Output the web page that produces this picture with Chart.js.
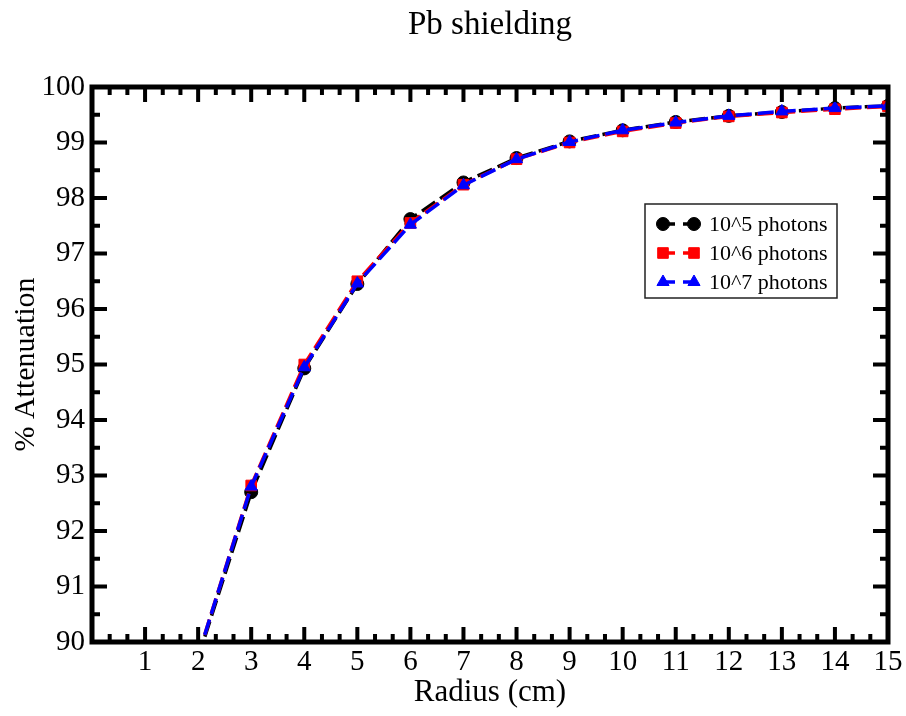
<!DOCTYPE html>
<html>
<head>
<meta charset="utf-8">
<title>Pb shielding</title>
<script src="https://cdn.jsdelivr.net/npm/chart.js@4.4.1/dist/chart.umd.min.js"></script>
<style>
  html, body { margin: 0; padding: 0; background: #fff; }
  #wrap { width: 906px; height: 716px; }
</style>
</head>
<body>
<div id="wrap"><canvas id="attChart" width="906" height="716"></canvas></div>
<script>
// ===============================
// data
// ===============================
const radius = [2, 3, 4, 5, 6, 7, 8, 9, 10, 11, 12, 13, 14, 15];
const photons1e5 = [89.72, 92.7, 94.93, 96.45, 97.62, 98.28, 98.72, 99.02, 99.22, 99.37, 99.48, 99.55, 99.62, 99.66];
const photons1e6 = [89.75, 92.82, 95.0, 96.5, 97.55, 98.24, 98.7, 99.0, 99.2, 99.35, 99.47, 99.54, 99.6, 99.65];
const photons1e7 = [89.75, 92.8, 94.95, 96.46, 97.52, 98.23, 98.7, 99.01, 99.22, 99.36, 99.48, 99.56, 99.62, 99.66];
const seriesNames = ["10^5 photons", "10^6 photons", "10^7 photons"];
const seriesColors = ["#000000", "#ff0000", "#0000ff"];
const chartTitle = "Pb shielding";

const FONT = "'Liberation Serif', 'Times New Roman', serif";

function toPoints(xs, ys) {
  return xs.map((x, i) => ({ x: x, y: ys[i] }));
}

// frame + inward ticks on all four sides, title centred over the plot box
const framePlugin = {
  id: "frame",
  afterDatasetsDraw(chart) {
    const { ctx, chartArea: a, scales: { x, y } } = chart;
    ctx.save();
    ctx.strokeStyle = "#000";
    ctx.lineWidth = 4;
    ctx.lineCap = "butt";
    ctx.beginPath();
    for (let i = 0; i <= 45; i++) {
      const px = x.getPixelForValue(i / 3);
      const len = i % 3 === 0 ? 15 : 8;
      ctx.moveTo(px, a.bottom); ctx.lineTo(px, a.bottom - len);
      ctx.moveTo(px, a.top); ctx.lineTo(px, a.top + len);
    }
    for (let i = 0; i <= 20; i++) {
      const py = y.getPixelForValue(90 + i / 2);
      const len = i % 2 === 0 ? 15 : 8;
      ctx.moveTo(a.left, py); ctx.lineTo(a.left + len, py);
      ctx.moveTo(a.right, py); ctx.lineTo(a.right - len, py);
    }
    ctx.stroke();
    ctx.lineWidth = 5;
    ctx.strokeRect(a.left, a.top, a.right - a.left, a.bottom - a.top);

    ctx.fillStyle = "#000";
    ctx.font = "33px " + FONT;
    ctx.textAlign = "center";
    ctx.textBaseline = "middle";
    ctx.fillText(chartTitle, (a.left + a.right) / 2, 25);
    ctx.restore();
  }
};

// boxed legend inside the plot, marker - dash - marker
const legendPlugin = {
  id: "boxLegend",
  afterDraw(chart) {
    const ctx = chart.ctx;
    const box = { left: 645, top: 204, right: 837, bottom: 298 };
    ctx.save();
    ctx.fillStyle = "#fff";
    ctx.fillRect(box.left, box.top, box.right - box.left, box.bottom - box.top);
    ctx.strokeStyle = "#222";
    ctx.lineWidth = 1.5;
    ctx.strokeRect(box.left, box.top, box.right - box.left, box.bottom - box.top);

    const rows = [224, 253, 282];
    chart.data.datasets.forEach((ds, i) => {
      const yy = rows[i];
      const x1 = 663, x2 = 694;
      ctx.strokeStyle = ds.borderColor;
      ctx.lineWidth = ds.borderWidth;
      ctx.setLineDash([12, 8]);
      ctx.beginPath();
      ctx.moveTo(x1, yy); ctx.lineTo(x2, yy);
      ctx.stroke();
      ctx.setLineDash([]);
      ctx.fillStyle = ds.borderColor;
      ctx.lineWidth = 1;
      [x1, x2].forEach(px => {
        Chart.helpers.drawPoint(ctx, {
          pointStyle: ds.pointStyle, radius: ds.pointRadius, rotation: 0, borderWidth: 1
        }, px, yy);
      });
      ctx.fillStyle = "#000";
      ctx.font = "22px " + FONT;
      ctx.textAlign = "left";
      ctx.textBaseline = "middle";
      ctx.fillText(ds.label, 709, yy + 1);
    });
    ctx.restore();
  }
};

function makeDataset(i, values, style, radiusPx, order) {
  return {
    label: seriesNames[i],
    data: toPoints(radius, values),
    borderColor: seriesColors[i],
    backgroundColor: seriesColors[i],
    pointBackgroundColor: seriesColors[i],
    pointBorderColor: seriesColors[i],
    borderWidth: 3.5,
    borderDash: [16, 6],
    pointStyle: style,
    pointRadius: radiusPx,
    pointBorderWidth: 1,
    tension: 0,
    clip: 0,
    order: order
  };
}

const ctx = document.getElementById("attChart").getContext("2d");
const attChart = new Chart(ctx, {
  type: "line",
  data: {
    datasets: [
      makeDataset(0, photons1e5, "circle", 6.5, 2),
      makeDataset(1, photons1e6, "rect", 7.5, 1),
      makeDataset(2, photons1e7, "triangle", 7, 0)
    ]
  },
  options: {
    responsive: false,
    animation: false,
    layout: { padding: { left: 0, right: 18, top: 87, bottom: 0 } },
    plugins: {
      legend: { display: false },
      tooltip: { enabled: false },
      title: { display: false }
    },
    scales: {
      x: {
        type: "linear",
        min: 0,
        max: 15,
        grid: { display: false, drawTicks: false },
        border: { display: false },
        ticks: {
          stepSize: 1,
          color: "#000",
          padding: 3,
          maxRotation: 0,
          font: { family: FONT, size: 29 },
          callback: v => (v === 0 ? "" : v)
        },
        title: {
          display: true,
          text: "Radius (cm)",
          color: "#000",
          font: { family: FONT, size: 31 },
          padding: { top: 0, bottom: 5 }
        },
        afterFit: s => { s.height = 74; }
      },
      y: {
        min: 90,
        max: 100,
        grid: { display: false, drawTicks: false },
        border: { display: false },
        ticks: {
          stepSize: 1,
          color: "#000",
          padding: 7,
          font: { family: FONT, size: 29 }
        },
        title: {
          display: true,
          text: "% Attenuation",
          color: "#000",
          font: { family: FONT, size: 30 },
          padding: { top: 8, bottom: 0 }
        },
        afterFit: s => { s.width = 92; }
      }
    }
  },
  plugins: [framePlugin, legendPlugin]
});
</script>
</body>
</html>
